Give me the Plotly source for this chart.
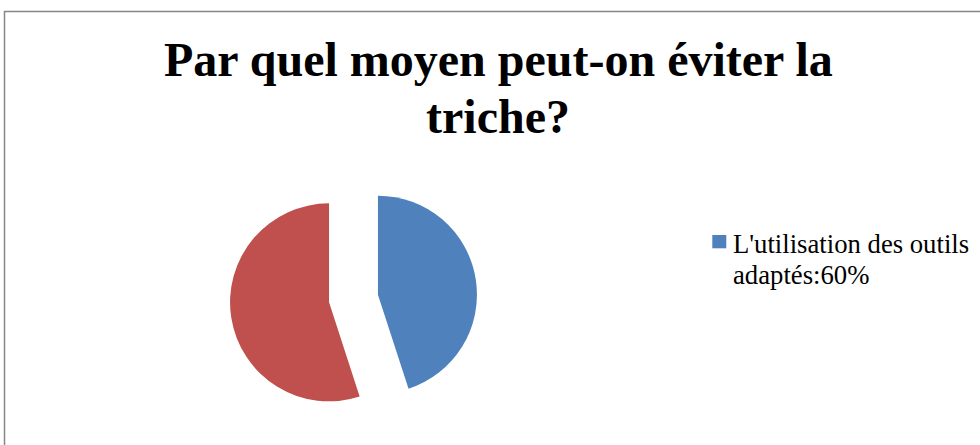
import plotly.graph_objects as go

# Data
labels = ["L'utilisation des outils adaptés:60%", "Autres moyens"]
values = [45, 55]
colors = ["#4F81BD", "#C0504D"]
legend_lines = ["L'utilisation des outils", "adaptés:60%"]
title_lines = ["Par quel moyen peut-on éviter la", "triche?"]

W, H = 980, 445
SERIF = "Liberation Serif, Times New Roman, serif"


def py(px):
    return 1 - px / H


fig = go.Figure()
fig.add_trace(go.Pie(
    labels=labels,
    values=values,
    sort=False,
    direction="clockwise",
    rotation=0,
    pull=[0.25, 0.25],
    marker=dict(colors=colors, line=dict(width=0)),
    textinfo="none",
    showlegend=False,
    domain=dict(x=[229.75 / W, 477.25 / W], y=[22.75 / H, 270.25 / H]),
))

# Outer chart border (cropped on right and bottom)
fig.add_shape(type="rect", xref="paper", yref="paper",
              x0=4.5 / W, x1=1.02, y0=-0.05, y1=py(11.5),
              line=dict(color="#868686", width=1.5), fillcolor="rgba(0,0,0,0)")

# Legend square + text (only the first entry visible)
fig.add_shape(type="rect", xref="paper", yref="paper",
              x0=712.3 / W, x1=726.3 / W, y0=py(248.3), y1=py(235),
              line=dict(width=0), fillcolor=colors[0])
for text, mid in zip(legend_lines, [244.0, 275.3]):
    fig.add_annotation(xref="paper", yref="paper", x=731 / W, y=py(mid),
                       xanchor="left", yanchor="middle", align="left", showarrow=False,
                       text=text,
                       font=dict(family=SERIF, size=26.7, color="#000000"))

# Title (two lines placed separately for exact spacing)
for text, mid in zip(title_lines, [59.8, 116.8]):
    fig.add_annotation(xref="paper", yref="paper", x=498 / W, y=py(mid),
                       xanchor="center", yanchor="middle", align="center", showarrow=False,
                       text="<b>" + text + "</b>",
                       font=dict(family=SERIF, size=48, color="#000000"))

fig.update_layout(
    width=W, height=H,
    margin=dict(l=0, r=0, t=0, b=0),
    paper_bgcolor="#FFFFFF",
    plot_bgcolor="#FFFFFF",
)

fig.write_html("out.html", config={"displayModeBar": False},
               post_script="document.body.style.margin='0';document.body.style.overflow='hidden';")
